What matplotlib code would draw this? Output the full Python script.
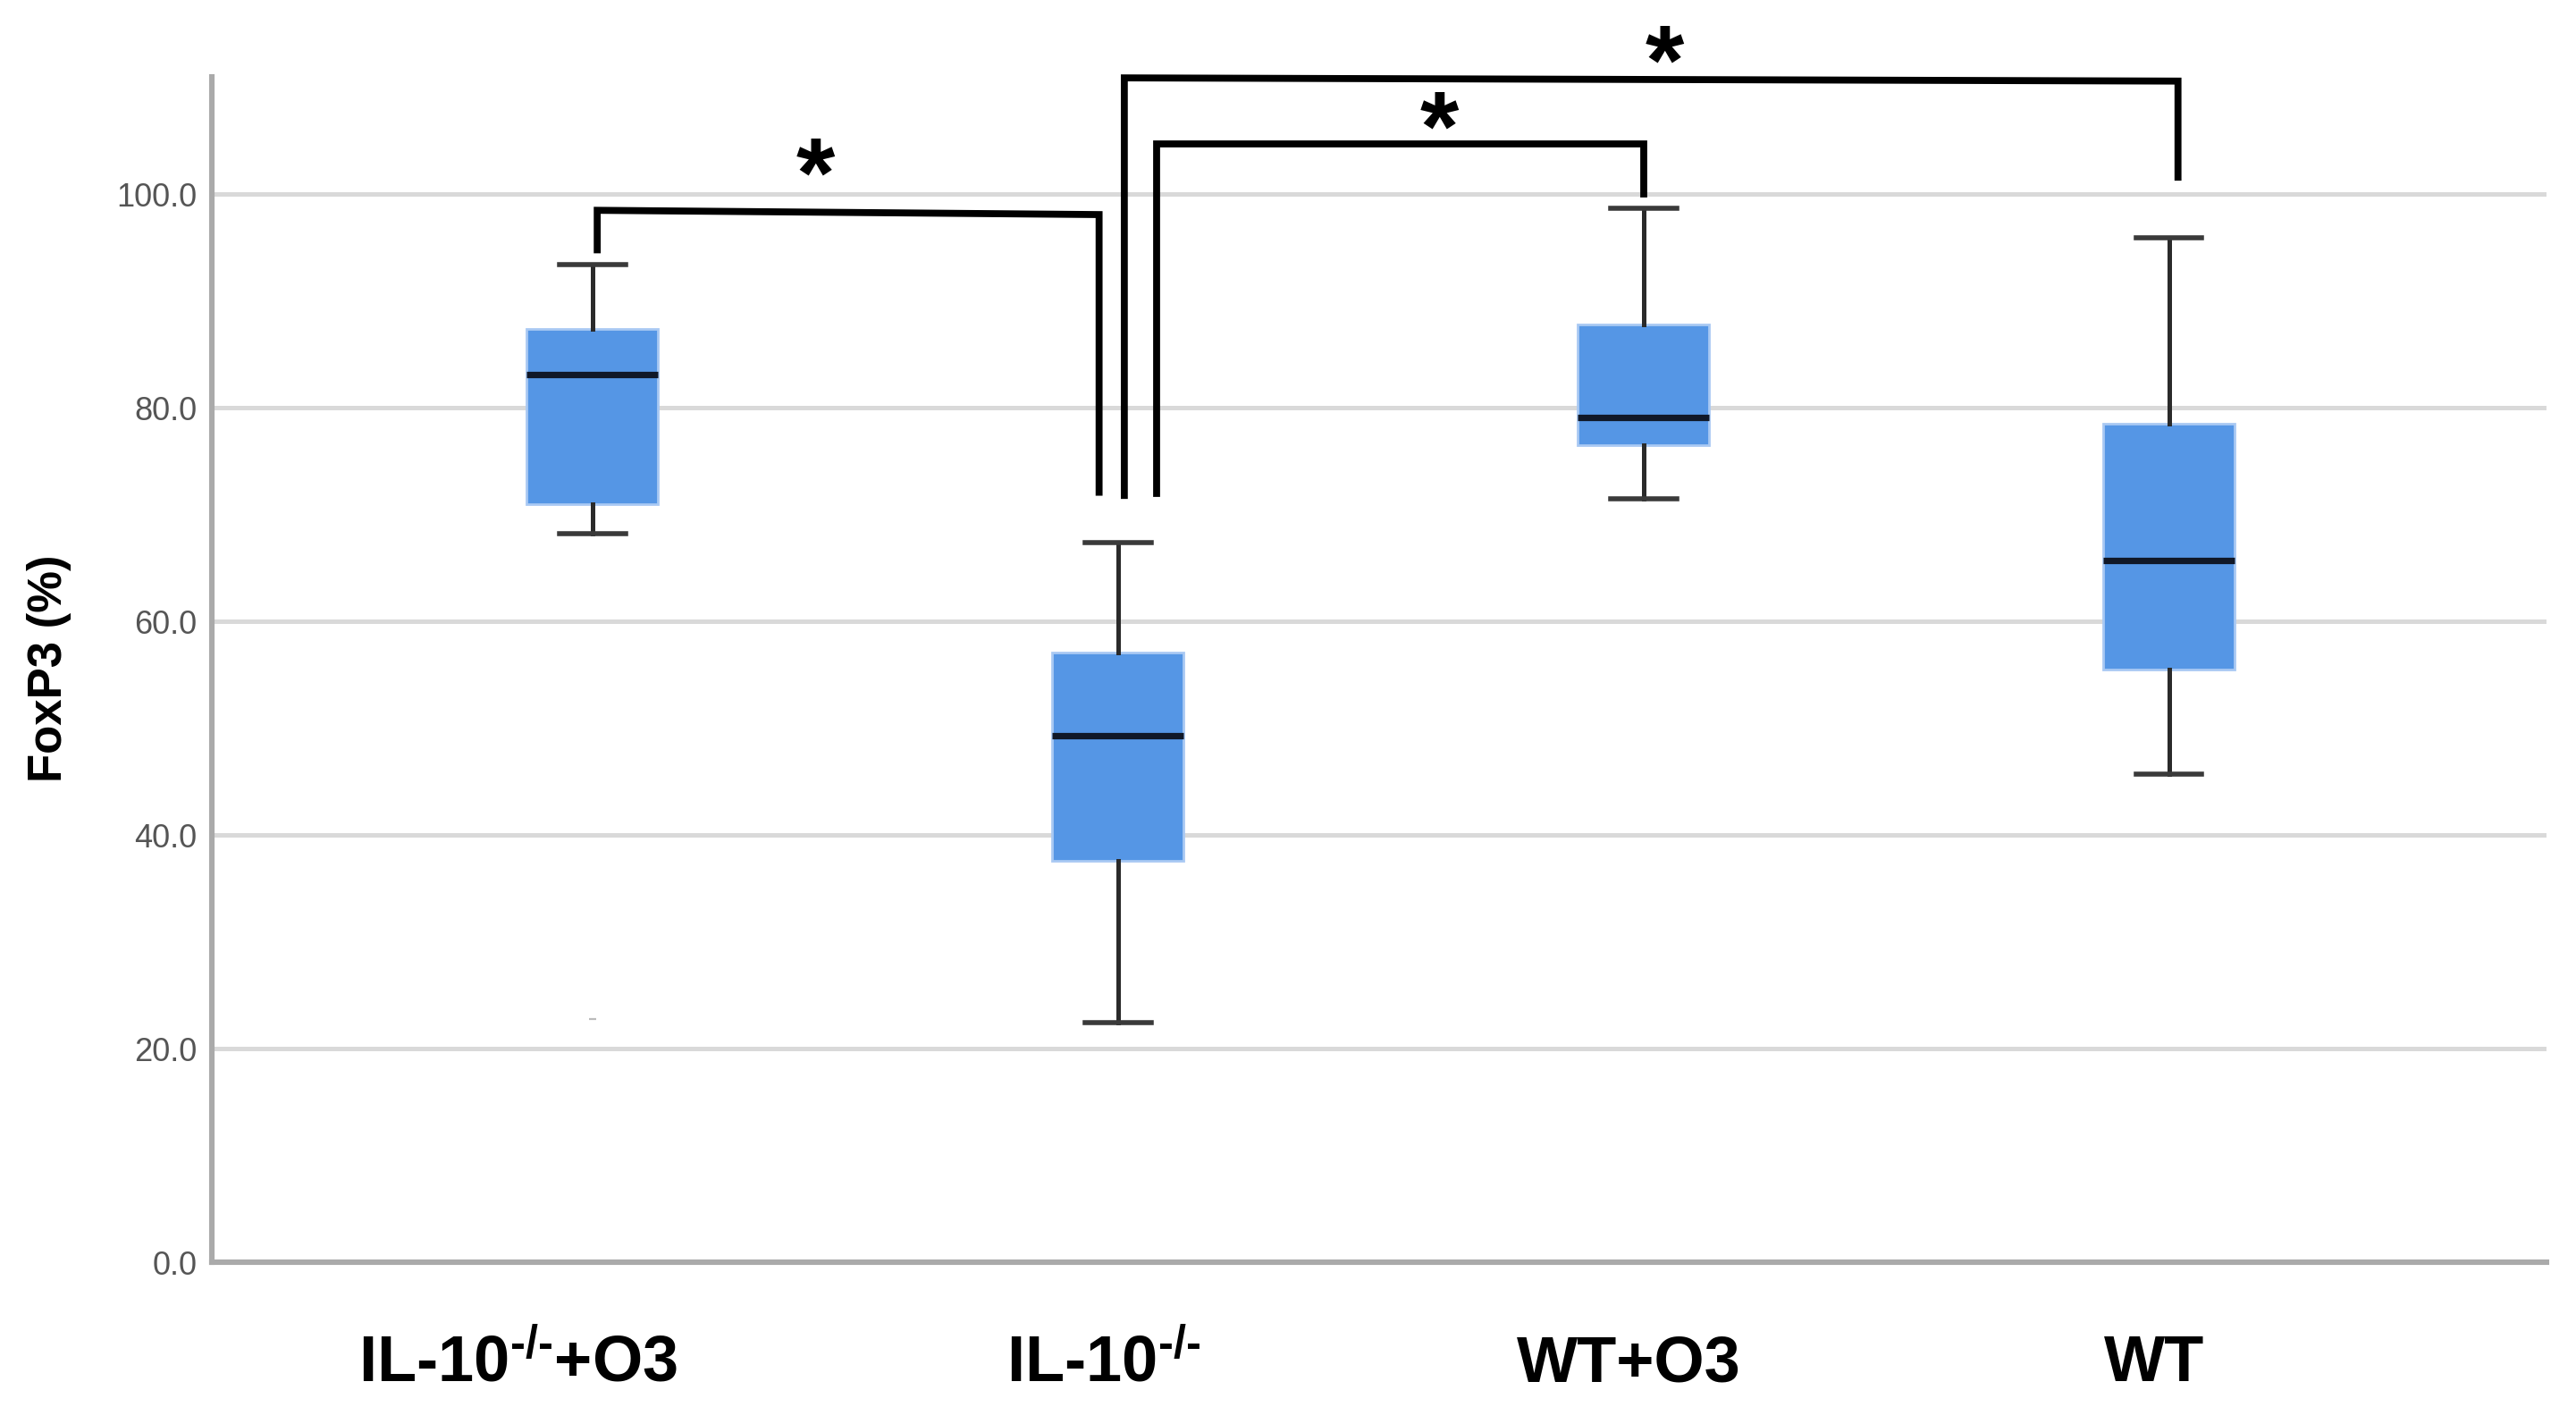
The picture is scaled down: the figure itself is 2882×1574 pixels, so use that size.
import matplotlib
matplotlib.use("Agg")
import matplotlib.pyplot as plt

plt.rcParams["font.family"] = ["Liberation Sans", "DejaVu Sans"]
plt.rcParams["mathtext.fontset"] = "custom"
plt.rcParams["mathtext.rm"] = "Liberation Sans:bold"
plt.rcParams["mathtext.it"] = "Liberation Sans:bold"
plt.rcParams["mathtext.bf"] = "Liberation Sans:bold"
plt.rcParams["mathtext.default"] = "rm"

# Groups and box statistics (FoxP3 %)
groups = [r"IL-10$^{\text{-/-}}$+O3", r"IL-10$^{\text{-/-}}$", "WT+O3", "WT"]
positions = [1, 2, 3, 4]
whisk_hi = [93.4, 67.4, 98.7, 95.9]
q3 = [87.4, 57.1, 87.8, 78.5]
median = [83.1, 49.3, 79.1, 65.7]
q1 = [71.0, 37.6, 76.5, 55.5]
whisk_lo = [68.2, 22.4, 71.5, 45.7]
fliers = [[22.8], [], [], []]

# Significance brackets
br_x_left = [1.009, 2.012, 2.074]
br_x_right = [1.964, 4.017, 3.0]
br_top_left = [98.5, 110.9, 104.7]
br_top_right = [98.1, 110.6, 104.7]
br_low_left = [94.8, 71.8, 72.0]
br_low_right = [72.1, 101.6, 100.0]
star_x = [1.425, 3.04, 2.612]
star_y = [103.3, 113.9, 107.7]

yticks = [0, 20, 40, 60, 80, 100]

fig = plt.figure(figsize=(14.41, 7.87), dpi=200)
ax = fig.add_axes([0.0822, 0.1029, 0.9063, 0.8425])

stats = []
for i in range(len(groups)):
    stats.append(dict(med=median[i], q1=q1[i], q3=q3[i],
                      whislo=whisk_lo[i], whishi=whisk_hi[i], fliers=fliers[i]))

ax.bxp(stats, positions=positions, widths=0.25, capwidths=0.125,
       patch_artist=True, showfliers=True,
       boxprops=dict(facecolor="#5596e5", edgecolor="#a9c9f3", linewidth=1.0),
       medianprops=dict(color="#101828", linewidth=2.6, solid_capstyle="butt"),
       whiskerprops=dict(color="#2a2a2a", linewidth=1.8),
       capprops=dict(color="#3a3a3a", linewidth=2.0),
       flierprops=dict(marker="_", markersize=3, markeredgecolor="#bbbbbb",
                       markeredgewidth=0.8),
       zorder=3)

# brackets
for i in range(len(br_x_left)):
    ax.plot([br_x_left[i], br_x_left[i], br_x_right[i], br_x_right[i]],
            [br_low_left[i], br_top_left[i], br_top_right[i], br_low_right[i]],
            color="black", linewidth=2.8, solid_joinstyle="miter",
            clip_on=False, zorder=4)
    ax.annotate("*", xy=(star_x[i], star_y[i]), xytext=(0, -9),
                textcoords="offset points", fontsize=40, fontweight="bold",
                ha="center", va="center", annotation_clip=False)

ax.set_xlim(0.2755, 4.718)
ax.set_ylim(0, 111)
ax.set_yticks(yticks)
ax.set_yticklabels([f"{v:.1f}" for v in yticks])
ax.tick_params(axis="y", length=0, pad=6, labelsize=13, labelcolor="#555555")
ax.set_xticks([])

ax.yaxis.grid(True, color="#d9d9d9", linewidth=1.8)
ax.set_axisbelow(True)
for s in ["top", "right"]:
    ax.spines[s].set_visible(False)
for s in ["left", "bottom"]:
    ax.spines[s].set_color("#aaaaaa")
    ax.spines[s].set_linewidth(2.2)

# category labels
label_dx = [-30, -6, -6, -6]
for i, g in enumerate(groups):
    ax.annotate(g, xy=(positions[i], 0), xycoords=("data", "axes fraction"),
                xytext=(label_dx[i], -48), textcoords="offset points",
                ha="center", va="baseline", fontsize=26, fontweight="bold")

fig.text(0.019, 0.525, "FoxP3 (%)", rotation=90, fontsize=19,
         fontweight="bold", ha="center", va="center")

fig.savefig("out.png", dpi=200)
